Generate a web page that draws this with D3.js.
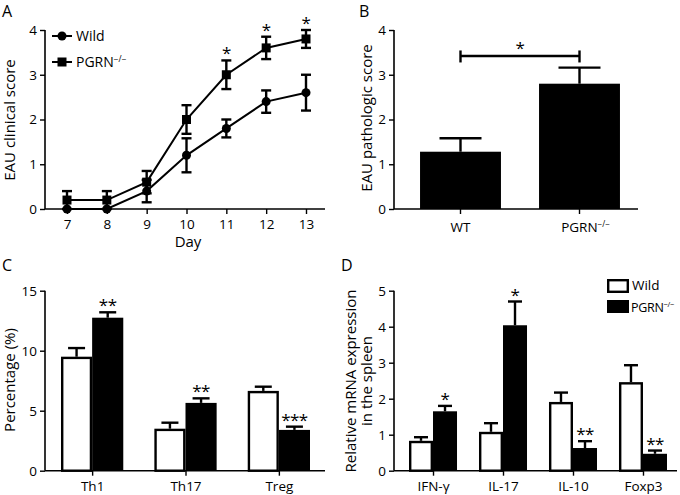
<!DOCTYPE html>
<html><head><meta charset="utf-8">
<script src="https://cdn.jsdelivr.net/npm/d3@7"></script>
<style>
body{margin:0;background:#fff;}
svg{display:block;font-family:"Open Sans",sans-serif;}
</style></head><body>
<svg id="c" width="680" height="495"></svg>
<script>
// ---------- DATA ----------
// Panel A
const days = [7, 8, 9, 10, 11, 12, 13];
const wildScore = [0, 0, 0.4, 1.2, 1.8, 2.4, 2.6];
const wildErr   = [0, 0, 0.25, 0.38, 0.2, 0.25, 0.4];
const pgrnScore = [0.2, 0.2, 0.6, 2.0, 3.0, 3.6, 3.8];
const pgrnErr   = [0.2, 0.2, 0.25, 0.32, 0.32, 0.25, 0.2];
const aSig      = ["", "", "", "", "*", "*", "*"];
const aTicksY   = [0, 1, 2, 3, 4];
// Panel B
const bCats = ["WT", "PGRN"];
const bVals = [1.28, 2.8];
const bErr  = [0.3, 0.36];
const bTicksY = [0, 1, 2, 3, 4];
// Panel C
const cCats = ["Th1", "Th17", "Treg"];
const cWild = [9.5, 3.5, 6.65];
const cWildErr = [0.72, 0.5, 0.35];
const cPgrn = [12.75, 5.65, 3.4];
const cPgrnErr = [0.45, 0.38, 0.27];
const cSig = ["**", "**", "***"];
const cTicksY = [0, 5, 10, 15];
// Panel D
const dCats = ["IFN-γ", "IL-17", "IL-10", "Foxp3"];
const dWild = [0.83, 1.08, 1.91, 2.46];
const dWildErr = [0.1, 0.24, 0.26, 0.47];
const dPgrn = [1.65, 4.04, 0.63, 0.47];
const dPgrnErr = [0.15, 0.66, 0.19, 0.09];
const dSig = ["*", "*", "**", "**"];
const dTicksY = [0, 1, 2, 3, 4, 5];

// ---------- DRAW ----------
const svg = d3.select("#c");
const SW = 2.4;
const TF = 13.5;

function pgrnLabel(sel, x, y, anchor, size) {
  const t = sel.append("text").attr("x", x).attr("y", y).attr("font-size", size)
    .attr("text-anchor", anchor || "start").attr("fill", "#000");
  t.append("tspan").text("PGRN");
  t.append("tspan").attr("font-size", size * 0.6).attr("dy", -size * 0.38).text("−/−");
  return t;
}

function yAxis(g, y, x0, ticks) {
  const ax = g.append("g").attr("transform", `translate(${x0},0)`)
    .call(d3.axisLeft(y).tickValues(ticks).tickFormat(d3.format("d")).tickSize(5).tickPadding(3).tickSizeOuter(0));
  ax.select(".domain").attr("stroke-width", 1.6).attr("d", `M0,${y.range()[0]}V${y.range()[1]}`);
  ax.selectAll(".tick line").attr("stroke-width", 1.4);
  ax.selectAll(".tick text").attr("font-size", TF).attr("font-family", "Open Sans").attr("fill", "#000");
  return ax;
}
function styleX(ax, xStart, xEnd) {
  ax.select(".domain").attr("stroke-width", 1.6).attr("d", `M${xStart},0H${xEnd}`);
  ax.selectAll(".tick line").attr("stroke-width", 1.4);
  ax.selectAll(".tick text").attr("font-size", TF).attr("font-family", "Open Sans").attr("fill", "#000");
}
function panelLetter(t, x, y) {
  svg.append("text").attr("x", x).attr("y", y).attr("font-size", 16).text(t);
}
function yTitle(lines, cx, cy) {
  const t = svg.append("text").attr("transform", `translate(${cx},${cy}) rotate(-90)`)
    .attr("text-anchor", "middle").attr("font-size", 15);
  lines.forEach((l, i) => t.append("tspan").attr("x", 0).attr("dy", i === 0 ? 0 : 16).text(l));
}
function star(x, capY, s) {
  svg.append("text").attr("x", x).attr("y", capY - 1)
    .attr("text-anchor", "middle").attr("font-size", 17).attr("letter-spacing", -0.5).text(s);
}

// ===== Panel A =====
{
  const g = svg.append("g");
  const x = d3.scaleLinear().domain([7, 13]).range([67, 306]);
  const y = d3.scaleLinear().domain([0, 4]).range([209, 30]);
  yAxis(g, y, 45, aTicksY);
  const xa = g.append("g").attr("transform", "translate(0,209)")
    .call(d3.axisBottom(x).tickValues(days).tickFormat(d3.format("d")).tickSize(5).tickPadding(5));
  styleX(xa, 45, 325);
  svg.append("text").attr("x", 188).attr("y", 247).attr("text-anchor", "middle").attr("font-size", 15).text("Day");

  const series = [
    { v: wildScore, e: wildErr, shape: "circle" },
    { v: pgrnScore, e: pgrnErr, shape: "square" }
  ];
  const line = d3.line().x((d, i) => x(days[i])).y(d => y(d));
  series.forEach(s => {
    g.append("path").attr("d", line(s.v)).attr("fill", "none").attr("stroke", "#000").attr("stroke-width", 2);
    s.v.forEach((v, i) => {
      const cx = x(days[i]);
      if (s.e[i] > 0) {
        const y1 = y(Math.max(0, v - s.e[i])), y2 = y(v + s.e[i]);
        g.append("line").attr("x1", cx).attr("x2", cx).attr("y1", y1).attr("y2", y2).attr("stroke", "#000").attr("stroke-width", SW);
        [y1, y2].forEach(yy => g.append("line").attr("x1", cx - 5).attr("x2", cx + 5).attr("y1", yy).attr("y2", yy).attr("stroke", "#000").attr("stroke-width", SW));
      }
      if (s.shape === "circle") g.append("circle").attr("cx", cx).attr("cy", y(v)).attr("r", 4.5).attr("fill", "#000");
      else g.append("rect").attr("x", cx - 4.5).attr("y", y(v) - 4.5).attr("width", 9).attr("height", 9).attr("fill", "#000");
    });
  });
  pgrnScore.forEach((v, i) => { if (aSig[i]) star(x(days[i]), y(v + pgrnErr[i]), aSig[i]); });
  // legend
  const lg = svg.append("g");
  lg.append("line").attr("x1", 52).attr("x2", 72).attr("y1", 36).attr("y2", 36).attr("stroke", "#000").attr("stroke-width", 2);
  lg.append("circle").attr("cx", 62).attr("cy", 36).attr("r", 4.5);
  lg.append("text").attr("x", 76).attr("y", 41).attr("font-size", 14).text("Wild");
  lg.append("line").attr("x1", 52).attr("x2", 72).attr("y1", 62).attr("y2", 62).attr("stroke", "#000").attr("stroke-width", 2);
  lg.append("rect").attr("x", 57.5).attr("y", 57.5).attr("width", 9).attr("height", 9);
  pgrnLabel(lg, 76, 67, "start", 14);
  yTitle(["EAU clinical score"], 15, 120);
  panelLetter("A", 2, 17);
}

// ===== Panel B =====
{
  const g = svg.append("g");
  const x = d3.scaleBand().domain(bCats).range([401, 639]).paddingInner(0.32).paddingOuter(0.16);
  const y = d3.scaleLinear().domain([0, 4]).range([209, 30]);
  bCats.forEach((c, i) => {
    const cx = x(c) + x.bandwidth() / 2;
    g.append("line").attr("x1", cx).attr("x2", cx).attr("y1", y(bVals[i])).attr("y2", y(bVals[i] + bErr[i])).attr("stroke", "#000").attr("stroke-width", SW);
    g.append("line").attr("x1", cx - 21).attr("x2", cx + 21).attr("y1", y(bVals[i] + bErr[i])).attr("y2", y(bVals[i] + bErr[i])).attr("stroke", "#000").attr("stroke-width", SW);
  });
  g.selectAll("rect.b").data(bVals).join("rect").attr("class", "b")
    .attr("x", (d, i) => x(bCats[i])).attr("width", x.bandwidth())
    .attr("y", d => y(d)).attr("height", d => y(0) - y(d)).attr("fill", "#000");
  yAxis(g, y, 394, bTicksY);
  const xa = g.append("g").attr("transform", "translate(0,209)")
    .call(d3.axisBottom(x).tickSize(5).tickFormat(() => ""));
  styleX(xa, 394, 638);
  svg.append("text").attr("x", x("WT") + x.bandwidth() / 2).attr("y", 232).attr("text-anchor", "middle").attr("font-size", TF).text("WT");
  pgrnLabel(svg, x("PGRN") + x.bandwidth() / 2 + 6, 232, "middle", TF);
  // significance bracket
  const bx1 = x("WT") + x.bandwidth() / 2, bx2 = x("PGRN") + x.bandwidth() / 2;
  const by = y(3.42);
  g.append("line").attr("x1", bx1).attr("x2", bx2).attr("y1", by).attr("y2", by).attr("stroke", "#000").attr("stroke-width", SW);
  [bx1, bx2].forEach(bx => g.append("line").attr("x1", bx).attr("x2", bx).attr("y1", by - 5.5).attr("y2", by + 6.5).attr("stroke", "#000").attr("stroke-width", SW));
  star((bx1 + bx2) / 2, by - 1, "*");
  yTitle(["EAU pathologic score"], 372, 118);
  panelLetter("B", 359, 17);
}

// grouped bars helper
function grouped(cats, wild, wildErr, pgrn, pgrnErr, sig, x, y, capW) {
  const g = svg.append("g");
  const sub = d3.scaleBand().domain(["w", "p"]).range([0, x.bandwidth()]);
  cats.forEach((c, i) => {
    [["w", wild[i], wildErr[i]], ["p", pgrn[i], pgrnErr[i]]].forEach(([k, v, e]) => {
      const cx = x(c) + sub(k) + sub.bandwidth() / 2;
      g.append("line").attr("x1", cx).attr("x2", cx).attr("y1", y(v)).attr("y2", y(v + e)).attr("stroke", "#000").attr("stroke-width", SW);
      g.append("line").attr("x1", cx - capW / 2).attr("x2", cx + capW / 2).attr("y1", y(v + e)).attr("y2", y(v + e)).attr("stroke", "#000").attr("stroke-width", SW);
    });
  });
  g.selectAll("rect.w").data(wild).join("rect").attr("class", "w")
    .attr("x", (d, i) => x(cats[i]) + sub("w") + 1.2).attr("width", sub.bandwidth() - 2.4)
    .attr("y", d => y(d) + 1.2).attr("height", d => y(0) - y(d) - 1.2)
    .attr("fill", "#fff").attr("stroke", "#000").attr("stroke-width", SW);
  g.selectAll("rect.p").data(pgrn).join("rect").attr("class", "p")
    .attr("x", (d, i) => x(cats[i]) + sub("p")).attr("width", sub.bandwidth())
    .attr("y", d => y(d)).attr("height", d => y(0) - y(d)).attr("fill", "#000");
  cats.forEach((c, i) => star(x(c) + sub("p") + sub.bandwidth() / 2, y(pgrn[i] + pgrnErr[i]), sig[i]));
  return g;
}

// ===== Panel C =====
{
  const x = d3.scaleBand().domain(cCats).range([61, 310]).paddingInner(0.333).paddingOuter(0);
  const y = d3.scaleLinear().domain([0, 15]).range([470.7, 290.7]);
  const g = grouped(cCats, cWild, cWildErr, cPgrn, cPgrnErr, cSig, x, y, 17);
  yAxis(g, y, 45, cTicksY);
  const xa = g.append("g").attr("transform", "translate(0,470.7)")
    .call(d3.axisBottom(d3.scalePoint().domain(cCats).range([x(cCats[0]) + x.bandwidth() / 2, x(cCats[2]) + x.bandwidth() / 2])).tickSize(5).tickPadding(6));
  styleX(xa, 45, 325);
  yTitle(["Percentage (%)"], 15, 380);
  panelLetter("C", 2, 271);
}

// ===== Panel D =====
{
  const x = d3.scaleBand().domain(dCats).range([409, 667]).paddingInner(0.314).paddingOuter(0);
  const y = d3.scaleLinear().domain([0, 5]).range([470.7, 290.7]);
  const g = grouped(dCats, dWild, dWildErr, dPgrn, dPgrnErr, dSig, x, y, 14);
  yAxis(g, y, 394, dTicksY);
  const xa = g.append("g").attr("transform", "translate(0,470.7)")
    .call(d3.axisBottom(d3.scalePoint().domain(dCats).range([x(dCats[0]) + x.bandwidth() / 2, x(dCats[3]) + x.bandwidth() / 2])).tickSize(5).tickPadding(6));
  styleX(xa, 394, 677);
  // legend
  svg.append("rect").attr("x", 608.2).attr("y", 280.2).attr("width", 19.6).attr("height", 11.6).attr("fill", "#fff").attr("stroke", "#000").attr("stroke-width", SW);
  svg.append("text").attr("x", 632).attr("y", 290).attr("font-size", 13.5).text("Wild");
  svg.append("rect").attr("x", 607).attr("y", 300).attr("width", 22).attr("height", 13).attr("fill", "#000");
  pgrnLabel(svg, 631, 312, "start", 12.5).attr("letter-spacing", -0.3);
  yTitle(["Relative mRNA expression", "in the spleen"], 356, 381);
  panelLetter("D", 341, 271);
}
</script>
</body></html>
